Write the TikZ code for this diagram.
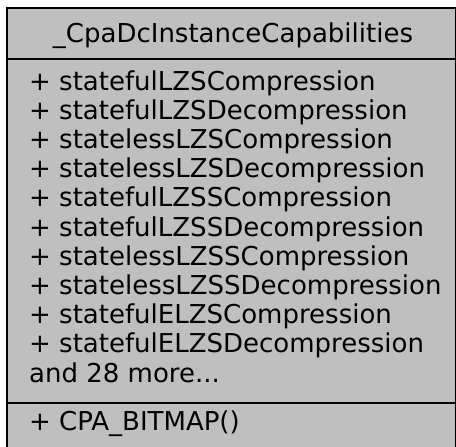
\documentclass[tikz,border=0pt]{standalone}
\usepackage{fontspec}
\setmainfont{DejaVu Sans}
\begin{document}
\begin{tikzpicture}[x=1pt,y=-1pt,
  member/.style={anchor=base west,inner sep=0pt,font=\fontsize{26}{30}\selectfont},
  title/.style={anchor=base,inner sep=0pt,font=\fontsize{26}{30}\selectfont},
  rule/.style={line width=2pt,black}]
\useasboundingbox (0,0) rectangle (456,447);
\clip (0,0) rectangle (456,447);
% class box (extends past the lower edge)
\draw[rule,fill={rgb,255:red,191;green,191;blue,191}] (7,8) rectangle (456,470);
\draw[rule] (7,59) -- (456,59);
\draw[rule] (7,403) -- (456,403);
% class name
\node[title] (name) at (233,42.5) {\_CpaDcInstanceCapabilities};
% attributes
\node[member] (a1)  at (29,90)    {+ statefulLZSCompression};
\node[member] (a2)  at (29,119.2) {+ statefulLZSDecompression};
\node[member] (a3)  at (29,148.4) {+ statelessLZSCompression};
\node[member] (a4)  at (29,177.6) {+ statelessLZSDecompression};
\node[member] (a5)  at (29,206.8) {+ statefulLZSSCompression};
\node[member] (a6)  at (29,236)   {+ statefulLZSSDecompression};
\node[member] (a7)  at (29,265.2) {+ statelessLZSSCompression};
\node[member] (a8)  at (29,294.4) {+ statelessLZSSDecompression};
\node[member] (a9)  at (29,323.6) {+ statefulELZSCompression};
\node[member] (a10) at (29,352.8) {+ statefulELZSDecompression};
\node[member] (more) at (29,382)  {and 28 more...};
% operations
\node[member] (m1) at (29,430) {+ CPA\_BITMAP()};
\end{tikzpicture}
\end{document}
